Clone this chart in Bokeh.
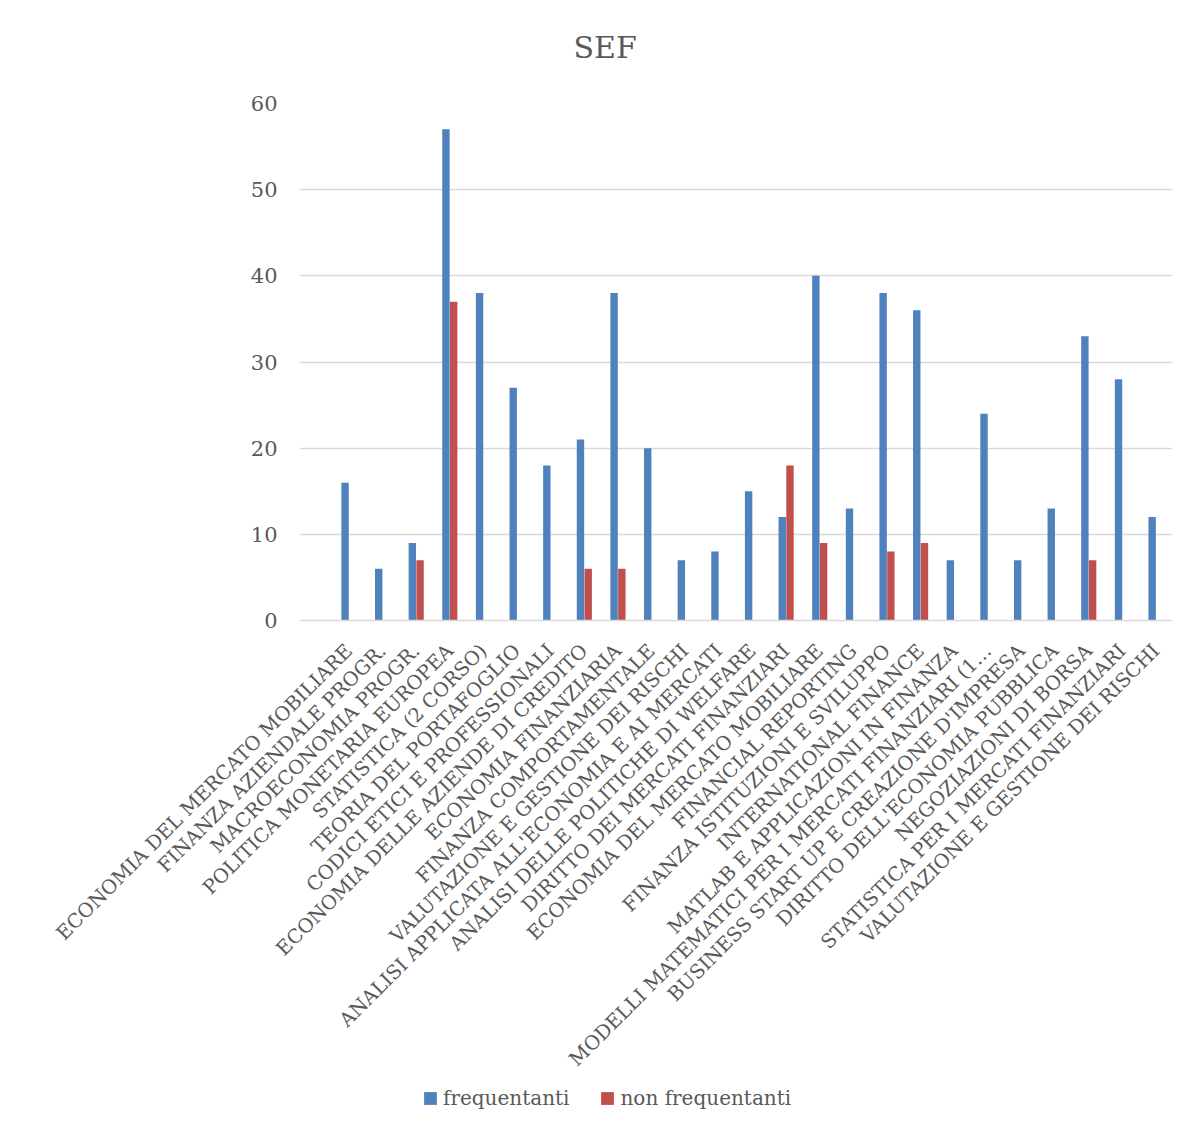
import math
from bokeh.plotting import figure
from bokeh.layouts import column
from bokeh.models import ColumnDataSource, Range1d, FixedTicker, Legend, LegendItem, Title
from bokeh.transform import dodge
from bokeh.embed import file_html
from bokeh.resources import INLINE

categories = [
    "ECONOMIA DEL MERCATO MOBILIARE",
    "FINANZA AZIENDALE PROGR.",
    "MACROECONOMIA PROGR.",
    "POLITICA MONETARIA EUROPEA",
    "STATISTICA (2 CORSO)",
    "TEORIA DEL PORTAFOGLIO",
    "CODICI ETICI E PROFESSIONALI",
    "ECONOMIA DELLE AZIENDE DI CREDITO",
    "ECONOMIA FINANZIARIA",
    "FINANZA COMPORTAMENTALE",
    "VALUTAZIONE E GESTIONE DEI RISCHI",
    "ANALISI APPLICATA ALL'ECONOMIA E AI MERCATI",
    "ANALISI DELLE POLITICHE DI WELFARE",
    "DIRITTO DEI MERCATI FINANZIARI",
    "ECONOMIA DEL MERCATO MOBILIARE",
    "FINANCIAL REPORTING",
    "FINANZA ISTITUZIONI E SVILUPPO",
    "INTERNATIONAL FINANCE",
    "MATLAB E APPLICAZIONI IN FINANZA",
    "MODELLI MATEMATICI PER I MERCATI FINANZIARI (1…",
    "BUSINESS START UP E CREAZIONE D'IMPRESA",
    "DIRITTO DELL'ECONOMIA PUBBLICA",
    "NEGOZIAZIONI DI BORSA",
    "STATISTICA PER I MERCATI FINANZIARI",
    "VALUTAZIONE E GESTIONE DEI RISCHI",
]
frequentanti = [16, 6, 9, 57, 38, 27, 18, 21, 38, 20, 7, 8, 15, 12, 40, 13, 38, 36, 7, 24, 7, 13, 33, 28, 12]
non_frequentanti = [0, 0, 7, 37, 0, 0, 0, 6, 6, 0, 0, 0, 0, 18, 9, 0, 8, 9, 0, 0, 0, 0, 7, 0, 0]
y_ticks = [0, 10, 20, 30, 40, 50, 60]
series_names = ["frequentanti", "non frequentanti"]
series_colors = ["#4F81BD", "#C0504D"]

idx = list(range(len(categories)))
source = ColumnDataSource(dict(x=idx, freq=frequentanti, nonfreq=non_frequentanti))

FONT = "DejaVu Serif"
TEXT = "#595959"

p = figure(width=1184, height=1081, output_backend="svg", toolbar_location=None,
           x_range=Range1d(-1.47, 24.49), y_range=Range1d(0, 60),
           min_border_left=299, min_border_right=12, min_border_top=103, min_border_bottom=460,
           title="SEF")
p.outline_line_color = None
p.background_fill_color = "white"

p.title.align = "left"
p.title.offset = 274
p.title.text_font = FONT
p.title.text_font_size = "30px"
p.title.text_font_style = "normal"
p.title.text_color = TEXT
p.title.standoff = 10
# invisible spacer between the title and the plot area
p.add_layout(Title(text=" ", text_font_size="1px", standoff=31), "above")

bw = 0.22
r1 = p.vbar(x=dodge("x", -0.115), top="freq", width=bw, source=source,
            fill_color=series_colors[0], line_color=None)
r2 = p.vbar(x=dodge("x", 0.115), top="nonfreq", width=bw, source=source,
            fill_color=series_colors[1], line_color=None)

p.xgrid.visible = False
p.ygrid.grid_line_color = "#D9D9D9"
p.ygrid.grid_line_width = 1.5
p.yaxis.ticker = FixedTicker(ticks=y_ticks)
p.yaxis.axis_line_color = None
p.yaxis.major_tick_line_color = None
p.yaxis.minor_tick_line_color = None
p.yaxis.major_tick_out = 0
p.yaxis.major_tick_in = 0
p.yaxis.major_label_standoff = 22
p.yaxis.major_label_text_font = FONT
p.yaxis.major_label_text_font_size = "21px"
p.yaxis.major_label_text_color = TEXT

p.xaxis.ticker = FixedTicker(ticks=idx)
p.xaxis.major_label_overrides = {i: c for i, c in zip(idx, categories)}
p.xaxis.major_label_orientation = math.pi / 4
p.xaxis.axis_line_color = "#D9D9D9"
p.xaxis.axis_line_width = 1.5
p.xaxis.major_tick_line_color = None
p.xaxis.minor_tick_line_color = None
p.xaxis.major_tick_out = 0
p.xaxis.major_tick_in = 0
p.xaxis.major_label_standoff = 27
p.xaxis.major_label_text_font = FONT
p.xaxis.major_label_text_font_size = "19.5px"
p.xaxis.major_label_text_color = TEXT

# legend strip below the chart (its renderers sit outside the visible ranges)
lg = figure(width=1184, height=45, output_backend="svg", toolbar_location=None,
            x_range=Range1d(100, 101), y_range=Range1d(100, 101), min_border=0)
lg.axis.visible = False
lg.grid.visible = False
lg.outline_line_color = None
d1 = lg.vbar(x="x", top="freq", width=0.2, source=source, fill_color=series_colors[0], line_color=None)
d2 = lg.vbar(x="x", top="nonfreq", width=0.2, source=source, fill_color=series_colors[1], line_color=None)
legend = Legend(items=[LegendItem(label=series_names[0], renderers=[d1]),
                       LegendItem(label=series_names[1], renderers=[d2])],
                orientation="horizontal", location=(123, 16),
                border_line_color=None, background_fill_alpha=0,
                glyph_width=16, glyph_height=16, label_standoff=5, spacing=30,
                padding=0, margin=0,
                label_text_font=FONT, label_text_font_size="20px", label_text_color=TEXT)
lg.add_layout(legend, "center")

layout = column(p, lg, spacing=0)
open("out.html", "w").write(file_html(layout, INLINE))
